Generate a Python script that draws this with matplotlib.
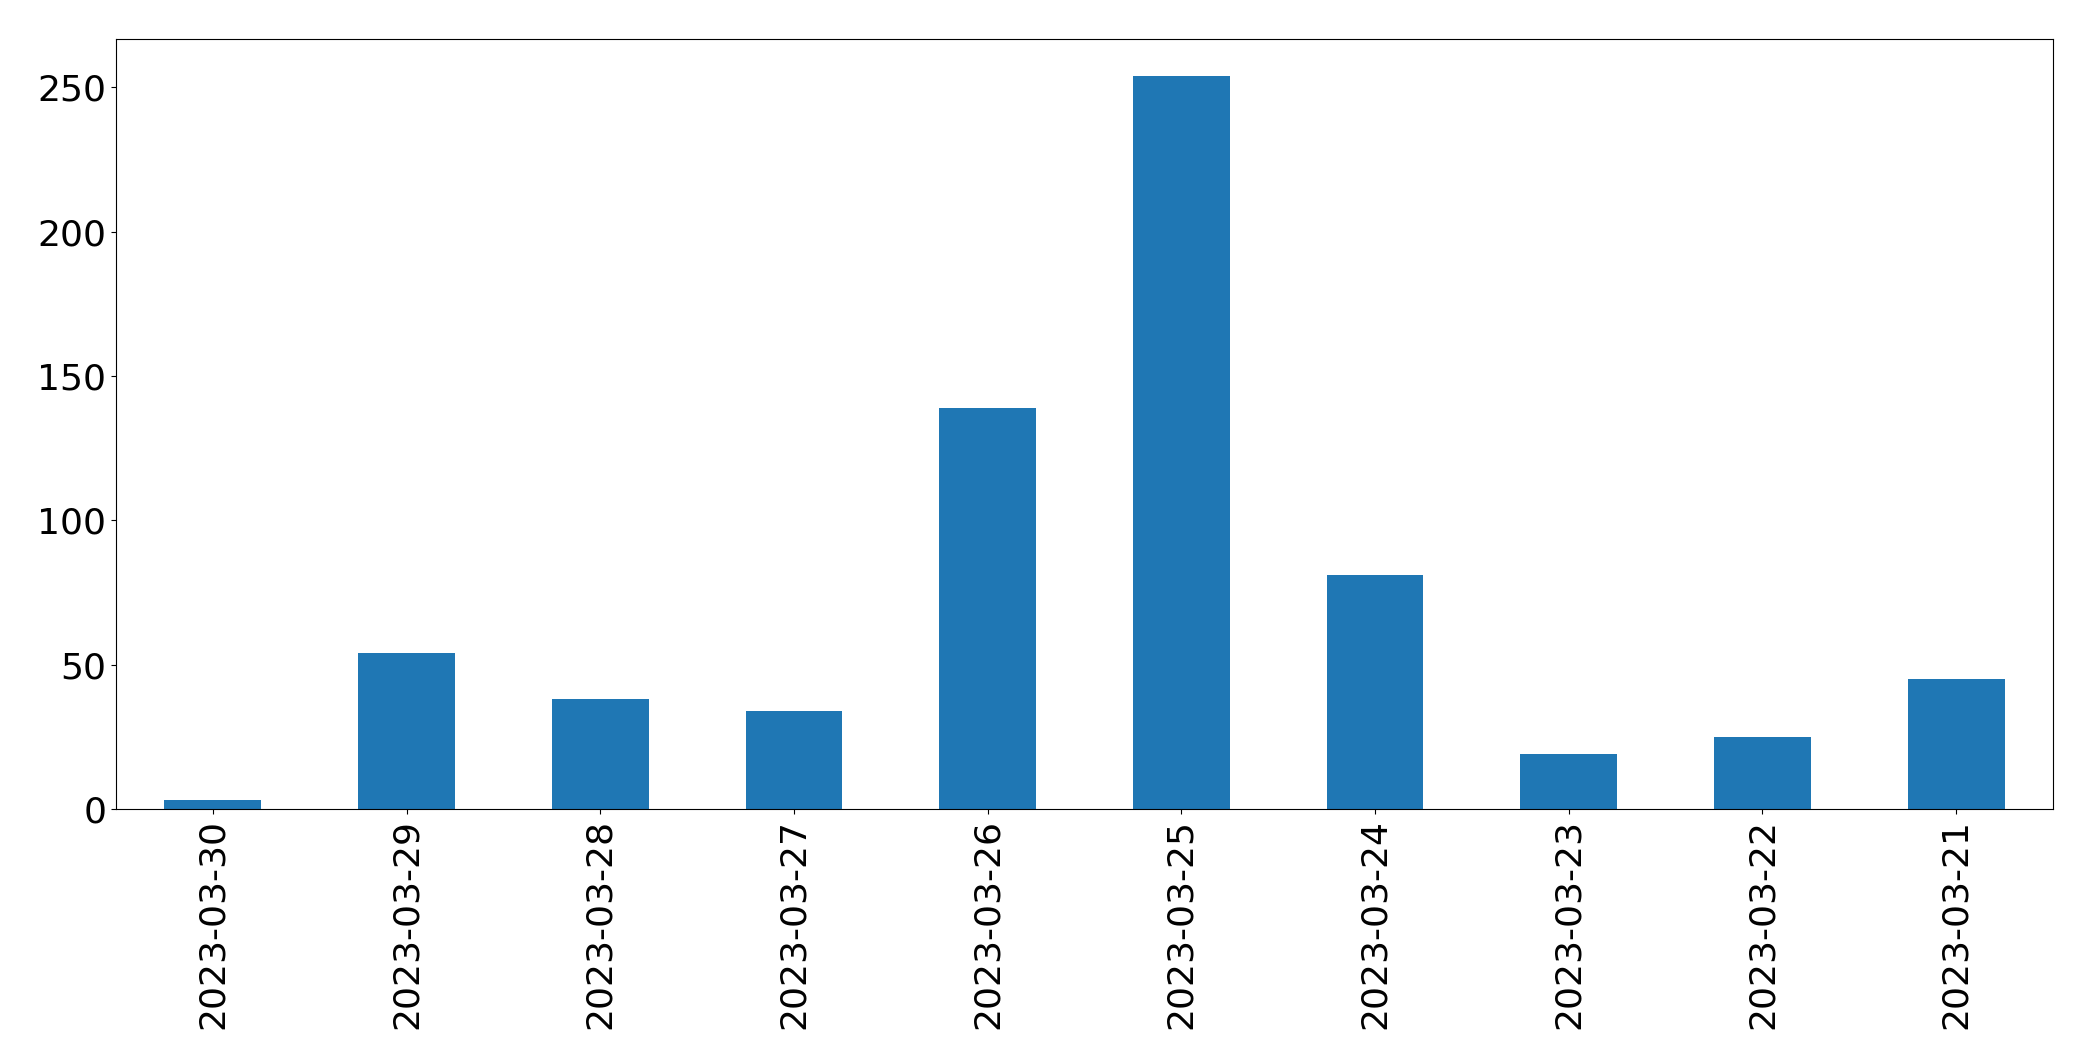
import matplotlib
matplotlib.use("Agg")
import matplotlib.pyplot as plt

# daily counts, newest first (as in the original)
dates = ["2023-03-30", "2023-03-29", "2023-03-28", "2023-03-27", "2023-03-26",
         "2023-03-25", "2023-03-24", "2023-03-23", "2023-03-22", "2023-03-21"]
counts = [3, 54, 38, 34, 139, 254, 81, 19, 25, 45]

fig = plt.figure(figsize=(20.93, 10.61), dpi=100)
ax = fig.add_axes([116 / 2093, 1 - 809 / 1061, (2053 - 116) / 2093, (809 - 39) / 1061])

x = range(len(dates))
ax.bar(x, counts, width=0.5, color="#1f77b4")
ax.set_xlim(-0.5, len(dates) - 0.5)
ax.set_xticks(list(x))
ax.set_xticklabels(dates, rotation=90)
ax.tick_params(axis="both", labelsize=26)

fig.savefig("out.png", dpi=100)
